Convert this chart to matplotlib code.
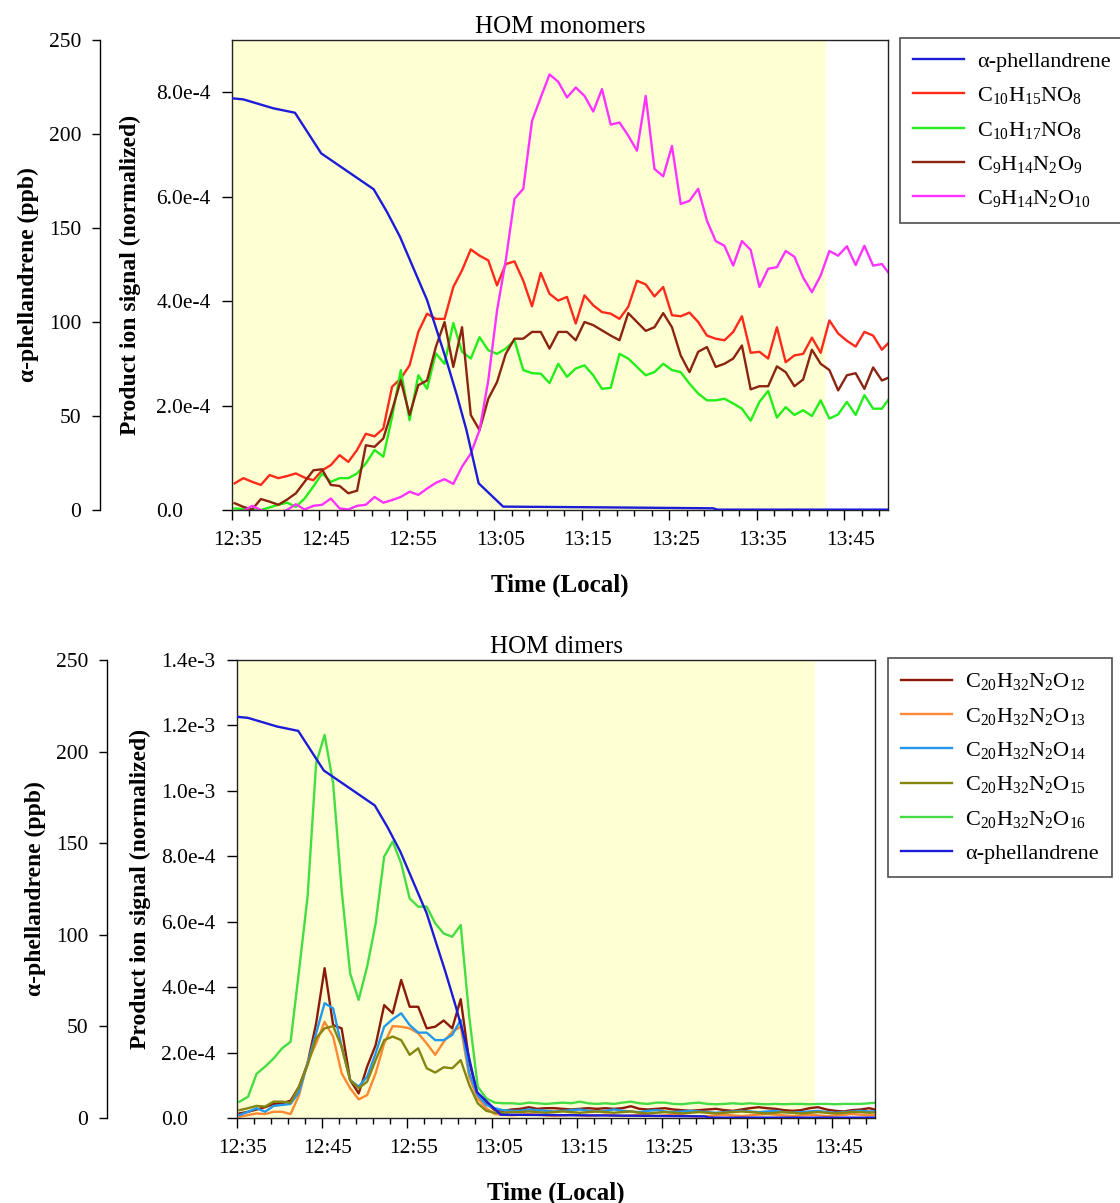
# -*- coding: utf-8 -*-
import numpy as np
import matplotlib
matplotlib.use('Agg')
import matplotlib.pyplot as plt
from matplotlib.ticker import FuncFormatter, MultipleLocator
from matplotlib.transforms import ScaledTranslation

plt.rcParams['font.family'] = ['Liberation Serif', 'DejaVu Serif']
plt.rcParams['mathtext.fontset'] = 'custom'
plt.rcParams['mathtext.rm'] = 'Liberation Serif'
plt.rcParams['mathtext.it'] = 'Liberation Serif:italic'
plt.rcParams['mathtext.bf'] = 'Liberation Serif:bold'

# HOM signals, one sample per minute, minutes after 12:35 (values in 1e-4)
t_hom = np.arange(76) + 0.3
chamber_end = 67.9   # end of the yellow period (~13:43)

# alpha-phellandrene (ppb), own sampling times
t_ap = [0, 1.3, 4.7, 7.2, 10.2, 16.2, 17.7, 19.2, 20.7, 22.3, 23.4, 24.5,
        25.7, 26.8, 28.2, 31.0, 42.6, 55.0, 55.5, 75.0]
ap_ppb = [219.0, 218.4, 213.7, 211.3, 189.7, 170.6, 158.7, 145.4, 129.1, 111.7,
          95.7, 79.8, 61.2, 42.6, 14.2, 1.8, 1.4, 0.9, 0.2, 0.2]

# ---- HOM monomers ----
c10h15no8 = [0.51, 0.61, 0.54, 0.48, 0.67, 0.61, 0.65, 0.70, 0.62, 0.57,
             0.76, 0.86, 1.05, 0.92, 1.15, 1.46, 1.41, 1.56, 2.36, 2.52,
             2.77, 3.41, 3.76, 3.66, 3.66, 4.27, 4.59, 4.99, 4.87, 4.78,
             4.30, 4.71, 4.76, 4.39, 3.90, 4.54, 4.14, 4.01, 4.08, 3.57,
             4.11, 3.92, 3.79, 3.76, 3.66, 3.89, 4.39, 4.32, 4.09, 4.27,
             3.73, 3.71, 3.78, 3.60, 3.34, 3.28, 3.25, 3.41, 3.71, 3.01,
             3.03, 2.90, 3.50, 2.83, 2.96, 2.99, 3.30, 3.01, 3.63, 3.38,
             3.24, 3.13, 3.41, 3.34, 3.07, 3.24]
c10h17no8 = [0.03, 0.02, 0.00, 0.00, 0.05, 0.10, 0.14, 0.06, 0.22, 0.45,
             0.70, 0.54, 0.61, 0.61, 0.70, 0.89, 1.15, 1.02, 1.78, 2.68,
             1.72, 2.58, 2.32, 3.00, 2.80, 3.58, 3.03, 2.90, 3.31, 3.06,
             2.99, 3.09, 3.25, 2.68, 2.62, 2.61, 2.43, 2.80, 2.55, 2.71,
             2.77, 2.58, 2.32, 2.34, 2.99, 2.90, 2.74, 2.58, 2.64, 2.80,
             2.68, 2.64, 2.42, 2.23, 2.10, 2.10, 2.13, 2.04, 1.94, 1.71,
             2.07, 2.28, 1.77, 1.97, 1.82, 1.91, 1.80, 2.10, 1.75, 1.83,
             2.07, 1.82, 2.20, 1.94, 1.94, 2.17]
c9h14n2o9 = [0.13, 0.06, 0.01, 0.21, 0.16, 0.10, 0.20, 0.32, 0.54, 0.76,
             0.78, 0.48, 0.46, 0.32, 0.37, 1.24, 1.21, 1.37, 1.91, 2.48,
             1.82, 2.39, 2.48, 3.12, 3.60, 2.74, 3.50, 1.82, 1.53, 2.13,
             2.45, 2.99, 3.28, 3.28, 3.41, 3.41, 3.09, 3.41, 3.41, 3.25,
             3.60, 3.54, 3.44, 3.34, 3.25, 3.77, 3.60, 3.43, 3.50, 3.77,
             3.50, 2.96, 2.64, 3.03, 3.12, 2.74, 2.80, 2.90, 3.15, 2.31,
             2.37, 2.37, 2.75, 2.64, 2.37, 2.50, 3.07, 2.80, 2.68, 2.29,
             2.58, 2.62, 2.32, 2.73, 2.48, 2.55]
c9h14n2o10 = [-0.10, -0.02, 0.08, 0.00, -0.05, -0.05, 0.00, 0.11, 0.01, 0.08,
              0.10, 0.22, 0.03, 0.01, 0.08, 0.10, 0.25, 0.14, 0.19, 0.25,
              0.35, 0.29, 0.41, 0.52, 0.59, 0.50, 0.83, 1.08, 1.53, 2.48,
              3.82, 4.78, 5.96, 6.15, 7.45, 7.90, 8.34, 8.20, 7.90, 8.09,
              7.93, 7.63, 8.06, 7.38, 7.42, 7.17, 6.88, 7.93, 6.53, 6.39,
              6.97, 5.86, 5.92, 6.15, 5.54, 5.15, 5.06, 4.68, 5.15, 4.98,
              4.27, 4.62, 4.65, 4.96, 4.85, 4.45, 4.17, 4.49, 4.96, 4.87,
              5.05, 4.69, 5.06, 4.68, 4.71, 4.49]

# ---- HOM dimers ----
c20_o12 = [0.14, 0.19, 0.26, 0.33, 0.43, 0.45, 0.53, 0.96, 1.67, 2.89,
           4.58, 2.84, 2.74, 1.16, 0.75, 1.57, 2.23, 3.45, 3.20, 4.22,
           3.40, 3.40, 2.74, 2.79, 2.98, 2.74, 3.63, 1.72, 0.70, 0.45,
           0.24, 0.22, 0.26, 0.28, 0.33, 0.28, 0.30, 0.30, 0.28, 0.26,
           0.28, 0.30, 0.28, 0.30, 0.28, 0.30, 0.36, 0.28, 0.26, 0.28,
           0.30, 0.26, 0.24, 0.22, 0.24, 0.26, 0.28, 0.24, 0.22, 0.26,
           0.30, 0.33, 0.30, 0.28, 0.24, 0.22, 0.24, 0.30, 0.33, 0.26,
           0.22, 0.20, 0.24, 0.26, 0.30, 0.24]
c20_o13 = [0.04, 0.09, 0.14, 0.12, 0.19, 0.19, 0.12, 0.70, 1.72, 2.28,
           2.94, 2.49, 1.37, 0.91, 0.57, 0.70, 1.37, 2.28, 2.81, 2.79,
           2.74, 2.59, 2.28, 1.93, 2.33, 2.64, 2.79, 1.26, 0.60, 0.30,
           0.12, 0.10, 0.08, 0.10, 0.12, 0.10, 0.08, 0.06, 0.08, 0.10,
           0.08, 0.06, 0.08, 0.10, 0.08, 0.06, 0.08, 0.10, 0.08, 0.06,
           0.08, 0.10, 0.08, 0.06, 0.04, 0.06, 0.08, 0.10, 0.08, 0.06,
           0.08, 0.10, 0.12, 0.10, 0.08, 0.06, 0.08, 0.10, 0.08, 0.06,
           0.08, 0.10, 0.12, 0.10, 0.08, 0.10]
c20_o14 = [0.09, 0.19, 0.30, 0.19, 0.37, 0.40, 0.43, 0.80, 1.67, 2.59,
           3.51, 3.35, 2.18, 1.16, 0.96, 1.26, 1.98, 2.79, 3.02, 3.20,
           2.84, 2.61, 2.61, 2.38, 2.38, 2.54, 3.00, 1.37, 0.70, 0.40,
           0.30, 0.24, 0.22, 0.22, 0.26, 0.24, 0.22, 0.20, 0.22, 0.24,
           0.26, 0.22, 0.20, 0.22, 0.26, 0.22, 0.20, 0.18, 0.22, 0.24,
           0.20, 0.18, 0.20, 0.22, 0.20, 0.18, 0.16, 0.18, 0.20, 0.22,
           0.20, 0.18, 0.20, 0.22, 0.18, 0.16, 0.18, 0.20, 0.22, 0.18,
           0.16, 0.18, 0.20, 0.22, 0.20, 0.20]
c20_o15 = [0.24, 0.30, 0.37, 0.35, 0.50, 0.50, 0.47, 0.96, 1.62, 2.44,
           2.74, 2.81, 2.18, 1.16, 0.91, 1.11, 1.77, 2.38, 2.49, 2.38,
           1.93, 2.13, 1.52, 1.39, 1.55, 1.52, 1.77, 1.01, 0.45, 0.22,
           0.16, 0.16, 0.18, 0.18, 0.20, 0.18, 0.16, 0.18, 0.20, 0.18,
           0.16, 0.18, 0.20, 0.18, 0.16, 0.18, 0.20, 0.16, 0.14, 0.16,
           0.18, 0.16, 0.14, 0.16, 0.18, 0.16, 0.14, 0.16, 0.18, 0.20,
           0.18, 0.16, 0.14, 0.16, 0.18, 0.16, 0.14, 0.16, 0.18, 0.16,
           0.14, 0.16, 0.18, 0.18, 0.16, 0.18]
c20_o16 = [0.50, 0.65, 1.35, 1.57, 1.82, 2.13, 2.33, 4.52, 6.77, 10.84,
           11.71, 10.23, 6.97, 4.42, 3.61, 4.63, 5.95, 7.99, 8.45, 7.78,
           6.71, 6.46, 6.46, 5.95, 5.64, 5.54, 5.90, 3.10, 0.96, 0.60,
           0.47, 0.45, 0.45, 0.43, 0.47, 0.45, 0.43, 0.45, 0.47, 0.45,
           0.50, 0.45, 0.43, 0.45, 0.43, 0.47, 0.50, 0.45, 0.43, 0.47,
           0.47, 0.43, 0.42, 0.45, 0.47, 0.43, 0.42, 0.43, 0.45, 0.43,
           0.45, 0.43, 0.42, 0.43, 0.42, 0.43, 0.43, 0.42, 0.43, 0.43,
           0.42, 0.43, 0.43, 0.43, 0.45, 0.47]

W, H = 1120, 1203
fig = plt.figure(figsize=(W / 100, H / 100), dpi=100)


def hhmm(m, pos):
    tot = 12 * 60 + 35 + int(round(m))
    return '%d:%02d' % (tot // 60, tot % 60)


def sci(v, pos):
    if abs(v) < 1e-12:
        return '0.0'
    e = int(np.floor(np.log10(abs(v)) + 1e-9))
    return '%.1fe%d' % (v / 10 ** e, e)


def px_rect(x0, y0, x1, y1):
    return [x0 / W, 1 - y1 / H, (x1 - x0) / W, (y1 - y0) / H]


def panel(rect, ymax, ystep, series, ap_first, title, ppb_x, lab_x, ppb_lab_x, leg_xy):
    ax = fig.add_axes(px_rect(*rect))
    wpx = rect[2] - rect[0]
    hpx = rect[3] - rect[1]
    ax.axvspan(0, chamber_end, color='#ffffd4', lw=0, zorder=0)
    for vals, col, lab in series:
        ax.plot(t_hom, np.array(vals) * 1e-4, color=col, lw=1.7, label=lab)
    ax.set_xlim(0, 75)
    ax.set_ylim(0, ymax)
    ax.xaxis.set_major_locator(MultipleLocator(10))
    ax.xaxis.set_minor_locator(MultipleLocator(2))
    ax.xaxis.set_major_formatter(FuncFormatter(hhmm))
    ax.yaxis.set_major_locator(MultipleLocator(ystep))
    ax.yaxis.set_major_formatter(FuncFormatter(sci))
    ax.tick_params(axis='x', which='major', direction='out', length=7, width=1,
                   labelsize=15.5, pad=8)
    ax.tick_params(axis='x', which='minor', direction='out', length=4, width=1)
    # inner y tick labels are left aligned in the original
    ax.tick_params(axis='y', direction='out', length=7, width=1, labelsize=15.5,
                   pad=73 * 0.72 - 7 * 0.72)
    for lbl in ax.get_yticklabels():
        lbl.set_horizontalalignment('left')
    for lbl in ax.get_xticklabels():
        lbl.set_transform(lbl.get_transform() +
                          ScaledTranslation(6 / 100, 0, fig.dpi_scale_trans))
    for s in ax.spines.values():
        s.set_linewidth(1.0)
        s.set_color('#222222')
    ax.set_title(title, fontsize=18, pad=5)
    ax.set_xlabel('Time (Local)', fontsize=18, fontweight='bold')
    ax.xaxis.set_label_coords(0.5, -64 / hpx)
    ax.set_ylabel('Product ion signal (normalized)', fontsize=17, fontweight='bold')
    ax.yaxis.set_label_coords((lab_x + 11 - rect[0]) / wpx, 0.5)

    ax2 = ax.twinx()
    ap_line, = ax2.plot(t_ap, ap_ppb, color='#1c1cd8', lw=1.7, label='\u03b1-phellandrene')
    ax2.set_ylim(0, 250)
    ax2.yaxis.set_major_locator(MultipleLocator(50))
    for k in ['right', 'top', 'bottom']:
        ax2.spines[k].set_visible(False)
    ax2.spines['left'].set_visible(True)
    ax2.spines['left'].set_position(('axes', (ppb_x - rect[0]) / wpx))
    ax2.spines['left'].set_linewidth(1.0)
    ax2.yaxis.set_ticks_position('left')
    ax2.yaxis.set_label_position('left')
    ax2.tick_params(axis='y', direction='out', length=6, width=1, labelsize=15.5, pad=7.5)
    ax2.set_ylabel('\u03b1-phellandrene (ppb)', fontsize=17, fontweight='bold')
    ax2.yaxis.set_label_coords((ppb_lab_x + 11 - rect[0]) / wpx, 0.5)

    h, l = ax.get_legend_handles_labels()
    if ap_first:
        h, l = [ap_line] + h, ['\u03b1-phellandrene'] + l
    else:
        h, l = h + [ap_line], l + ['\u03b1-phellandrene']
    leg = fig.legend(h, l, loc='upper left', bbox_to_anchor=(leg_xy[0] / W, 1 - leg_xy[1] / H),
                     fontsize=16, frameon=True, fancybox=False, edgecolor='#222222',
                     handlelength=2.3, handletextpad=0.55, labelspacing=0.6,
                     borderpad=0.6, borderaxespad=0)
    leg.get_frame().set_linewidth(1.2)
    return ax


top_series = [
    (c10h15no8, '#ff2a1a', 'C$_{10}$H$_{15}$NO$_{8}$'),
    (c10h17no8, '#22ee1a', 'C$_{10}$H$_{17}$NO$_{8}$'),
    (c9h14n2o9, '#8b2410', 'C$_{9}$H$_{14}$N$_{2}$O$_{9}$'),
    (c9h14n2o10, '#ff33ff', 'C$_{9}$H$_{14}$N$_{2}$O$_{10}$'),
]
panel((232, 40, 888, 510), 9.0e-4, 2e-4, top_series, True, 'HOM monomers',
      100, 130, 28, (900, 38))

bot_series = [
    (c20_o12, '#8b1a0a', 'C$_{20}$H$_{32}$N$_{2}$O$_{12}$'),
    (c20_o13, '#ff8833', 'C$_{20}$H$_{32}$N$_{2}$O$_{13}$'),
    (c20_o14, '#2299ee', 'C$_{20}$H$_{32}$N$_{2}$O$_{14}$'),
    (c20_o15, '#858510', 'C$_{20}$H$_{32}$N$_{2}$O$_{15}$'),
    (c20_o16, '#44dd44', 'C$_{20}$H$_{32}$N$_{2}$O$_{16}$'),
]
panel((237, 660, 875, 1118), 1.4e-3, 2e-4, bot_series, False, 'HOM dimers',
      107, 140, 35, (888, 658))

fig.savefig('out.png', dpi=100)
